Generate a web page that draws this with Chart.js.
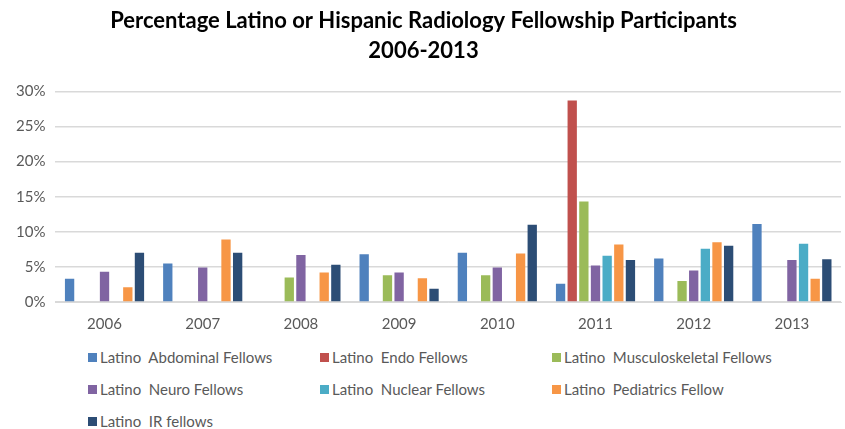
<!DOCTYPE html>
<html lang="en">
<head>
    <meta charset="UTF-8">
    <title>Percentage Latino or Hispanic Radiology Fellowship Participants</title>
    <script src="https://cdn.jsdelivr.net/npm/chart.js@4.4.1/dist/chart.umd.min.js"></script>
    <style>
        html, body { margin: 0; padding: 0; background: #fff; }
        #wrap { position: relative; width: 845px; height: 429px; }
        #chart-box { position: absolute; left: 0; top: 0; width: 845px; height: 338px; }
        #legend {
            position: absolute; left: 88px; top: 348px;
            display: grid; grid-template-columns: 232px 232px 232px;
            row-gap: 14px;
            font-family: Lato, "Open Sans", sans-serif; font-size: 15px; color: #595959;
        }
        #legend div { display: flex; align-items: center; white-space: pre; height: 18px; }
        #legend span.box { width: 9px; height: 9px; margin-right: 3px; display: inline-block; }
    </style>
</head>
<body>
<div id="wrap">
    <div id="chart-box"><canvas id="chart"></canvas></div>
    <div id="legend"></div>
</div>
<script>
// Données (en %)
const years = ["2006", "2007", "2008", "2009", "2010", "2011", "2012", "2013"];
const seriesNames = [
    "Latino  Abdominal Fellows",
    "Latino  Endo Fellows",
    "Latino  Musculoskeletal Fellows",
    "Latino  Neuro Fellows",
    "Latino  Nuclear Fellows",
    "Latino  Pediatrics Fellow",
    "Latino  IR fellows"
];
const abdominal = [3.3, 5.5, null, 6.8, 7.0, 2.6, 6.2, 11.1];
const endo = [null, null, null, null, null, 28.7, null, null];
const musculoskeletal = [null, null, 3.5, 3.8, 3.8, 14.3, 3.0, null];
const neuro = [4.3, 4.9, 6.7, 4.2, 4.9, 5.2, 4.5, 6.0];
const nuclear = [null, null, null, null, null, 6.6, 7.6, 8.3];
const pediatrics = [2.1, 8.9, 4.2, 3.4, 6.9, 8.2, 8.5, 3.3];
const ir = [7.0, 7.0, 5.3, 1.9, 11.0, 6.0, 8.0, 6.1];
const yTicks = [0, 5, 10, 15, 20, 25, 30];

const colors = ["#4F81BD", "#C0504D", "#9BBB59", "#8064A2", "#4BACC6", "#F79646", "#2C4D75"];
const allSeries = [abdominal, endo, musculoskeletal, neuro, nuclear, pediatrics, ir];

const datasets = allSeries.map((values, i) => ({
    label: seriesNames[i],
    data: values,
    backgroundColor: colors[i],
    borderWidth: 0,
    categoryPercentage: 0.83,
    barPercentage: 0.8
}));

new Chart(document.getElementById("chart"), {
    type: "bar",
    data: { labels: years, datasets: datasets },
    options: {
        responsive: true,
        maintainAspectRatio: false,
        animation: false,
        layout: { padding: { left: 6, right: 4, top: 6, bottom: 0 } },
        plugins: {
            legend: { display: false },
            tooltip: { enabled: false },
            title: {
                display: true,
                text: ["Percentage Latino or Hispanic Radiology Fellowship Participants", "2006-2013"],
                color: "#000",
                font: { family: "Lato, 'Open Sans', sans-serif", size: 22, weight: "bold", lineHeight: 1.35 },
                padding: { top: 0, bottom: 26 }
            }
        },
        scales: {
            x: {
                grid: { display: false },
                border: { color: "#D9D9D9", width: 1 },
                ticks: { color: "#595959", font: { family: "Lato, 'Open Sans', sans-serif", size: 15 }, padding: 5 }
            },
            y: {
                min: 0,
                max: 30,
                afterBuildTicks: axis => { axis.ticks = yTicks.map(v => ({ value: v })); },
                grid: { color: "#D9D9D9", lineWidth: 1.5, drawTicks: false },
                border: { display: false },
                ticks: {
                    color: "#595959",
                    font: { family: "Lato, 'Open Sans', sans-serif", size: 15 },
                    padding: 10,
                    callback: v => v + "%"
                }
            }
        }
    }
});

// Légende en HTML, trois colonnes comme dans l'original
const legend = document.getElementById("legend");
seriesNames.forEach((name, i) => {
    const item = document.createElement("div");
    const box = document.createElement("span");
    box.className = "box";
    box.style.background = colors[i];
    item.appendChild(box);
    item.appendChild(document.createTextNode(name));
    legend.appendChild(item);
});
</script>
</body>
</html>
